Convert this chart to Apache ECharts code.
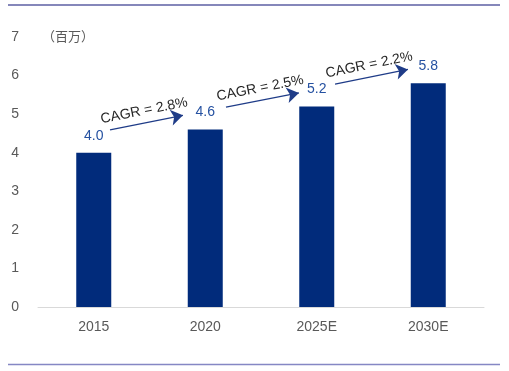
<!DOCTYPE html>
<html><head><meta charset="utf-8">
<script src="https://cdn.jsdelivr.net/npm/echarts@6/dist/echarts.min.js"></script>
<style>html,body{margin:0;padding:0;background:#fff}#c{width:509px;height:371px}</style>
</head><body><div id="c"></div>
<script>
const categories = ['2015', '2020', '2025E', '2030E'];
const values = [4.0, 4.6, 5.2, 5.8];
const yTicks = [0, 1, 2, 3, 4, 5, 6, 7];
const unitLabel = '（百万）';
const cagrLabels = ['CAGR = 2.8%', 'CAGR = 2.5%', 'CAGR = 2.2%'];
// arrow endpoints in (category position, value) space
const arrowStarts = [[0.146, 4.59], [1.186, 5.18], [2.164, 5.78]];
const arrowEnds = [[0.80, 4.97], [1.84, 5.55], [2.818, 6.16]];

const chart = echarts.init(document.getElementById('c'), null, {renderer: 'canvas'});
const gray = '#595959';
const font = 'Liberation Sans, Arial, sans-serif';
chart.setOption({
  animation: false,
  backgroundColor: '#fff',
  title: {text: unitLabel, left: 37, top: 25, textStyle: {fontSize: 13, fontWeight: 'normal', color: gray, fontFamily: 'Noto Sans CJK SC'}},
  grid: {left: 38, right: 25, top: 37, bottom: 64},
  xAxis: [{
    type: 'category', data: categories,
    axisLine: {lineStyle: {color: '#d9d9d9', width: 1}},
    axisTick: {show: false},
    axisLabel: {color: gray, fontSize: 14, fontFamily: font, margin: 13}
  }, {
    type: 'value', min: -0.5, max: 3.5, show: false
  }],
  yAxis: {
    type: 'value', min: yTicks[0], max: yTicks[yTicks.length - 1], interval: 1,
    splitLine: {show: false}, axisLine: {show: false}, axisTick: {show: false},
    axisLabel: {color: gray, fontSize: 14, fontFamily: font, margin: 19}
  },
  series: [{
    type: 'bar', data: values, barWidth: 35, xAxisIndex: 0,
    itemStyle: {color: '#012b7b'},
    label: {show: true, position: 'top', distance: 10, color: '#2551a1', fontSize: 14, fontFamily: font,
      formatter: p => p.value.toFixed(1)}
  }, {
    type: 'line', xAxisIndex: 1, data: [], silent: true,
    markLine: {
      silent: true, symbol: ['none', 'arrow'], symbolSize: 12,
      itemStyle: {color: '#1f3c88'},
      lineStyle: {color: '#1f3c88', width: 1.3, type: 'solid'},
      label: {show: true, position: 'middle', color: '#262626', fontSize: 14, fontFamily: font, distance: 5},
      data: arrowStarts.map((s, i) => [
        {coord: s, label: {formatter: cagrLabels[i]}},
        {coord: arrowEnds[i]}
      ])
    }
  }],
  graphic: [
    {type: 'line', shape: {x1: 8, y1: 5, x2: 500, y2: 5}, style: {stroke: '#5d5fa3', lineWidth: 1.5}},
    {type: 'line', shape: {x1: 8, y1: 364.5, x2: 500, y2: 364.5}, style: {stroke: '#8587c4', lineWidth: 1.5}}
  ]
});
</script></body></html>
